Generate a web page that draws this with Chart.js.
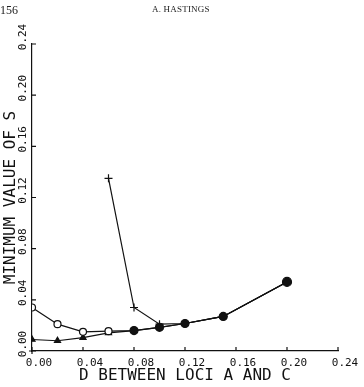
<!DOCTYPE html>
<html lang="en">
<head>
    <meta charset="UTF-8">
    <title>Minimum value of S</title>
    <style>
        body { margin: 0; background: #fff; }
        .page { position: relative; width: 364px; height: 387px; }
        .pageno { position: absolute; left: 0; top: 3px; font: 12px "Liberation Serif", serif; color: #222; }
        .author { position: absolute; left: 152px; top: 4px; font: 9px "Liberation Serif", serif; letter-spacing: 0.2px; color: #222; }
        canvas { position: absolute; left: 0; top: 0; }
    </style>
</head>
<body>
    <div class="page">
        <canvas id="grafico" width="364" height="387"></canvas>
        <div class="pageno">156</div>
        <div class="author">A. HASTINGS</div>
    </div>

    <script src="https://cdn.jsdelivr.net/npm/chart.js"></script>
    <script>
        // D between loci A and C
        const dValues = [0.00, 0.02, 0.04, 0.06, 0.08, 0.10, 0.12, 0.15, 0.20];
        const circleSeries = [0.034, 0.021, 0.015, 0.0155, 0.016, 0.0185, 0.0215, 0.027, 0.054];
        const triangleSeries = [0.009, 0.008, 0.0105, 0.0142, 0.016, 0.0185, 0.0215, 0.027, 0.054];
        const plusD = [0.06, 0.08, 0.10, 0.12, 0.15, 0.20];
        const plusSeries = [0.135, 0.034, 0.021, 0.0215, 0.027, 0.054];
        const tickValues = [0.00, 0.04, 0.08, 0.12, 0.16, 0.20, 0.24];

        const toPoints = (xs, ys) => xs.map((x, i) => ({ x: x, y: ys[i] }));
        const mono = '"DejaVu Sans Mono", "Liberation Mono", monospace';
        const ink = '#111';

        // ticks drawn inward, y labels rotated like the plotter output
        const axisPlugin = {
            id: 'axisPlugin',
            afterDraw(chart) {
                const ctx = chart.ctx;
                const xs = chart.scales.x;
                const ys = chart.scales.y;
                const bottom = ys.getPixelForValue(0);
                const left = xs.getPixelForValue(0);
                ctx.save();
                ctx.strokeStyle = ink;
                ctx.lineWidth = 1.2;
                ctx.beginPath();
                tickValues.forEach(v => {
                    const px = xs.getPixelForValue(v);
                    ctx.moveTo(px, bottom + (v === 0 ? 3 : 0));
                    ctx.lineTo(px, bottom - 4);
                    const py = ys.getPixelForValue(v);
                    ctx.moveTo(left - (v === 0 ? 3 : 0), py);
                    ctx.lineTo(left + 4, py);
                });
                ctx.stroke();

                ctx.fillStyle = ink;
                ctx.font = '11px ' + mono;
                ctx.textAlign = 'center';
                ctx.textBaseline = 'middle';
                tickValues.forEach(v => {
                    const py = ys.getPixelForValue(v);
                    ctx.save();
                    ctx.translate(23, py - 7);
                    ctx.rotate(-Math.PI / 2);
                    ctx.fillText(v.toFixed(2), 0, 0);
                    ctx.restore();
                });
                ctx.restore();
            }
        };

        new Chart(document.getElementById('grafico'), {
            type: 'line',
            data: {
                datasets: [
                    {
                        data: toPoints(dValues, circleSeries),
                        borderColor: ink,
                        borderWidth: 1.2,
                        pointStyle: 'circle',
                        pointRadius: [3.5, 3.5, 3.5, 3.5, 4, 4, 4, 4, 4.5],
                        pointBorderWidth: 1.2,
                        pointBorderColor: ink,
                        pointBackgroundColor: ['#fff', '#fff', '#fff', '#fff', ink, ink, ink, ink, ink]
                    },
                    {
                        data: toPoints(dValues, triangleSeries),
                        borderColor: ink,
                        borderWidth: 1.2,
                        pointStyle: 'triangle',
                        pointRadius: 3.5,
                        pointBorderColor: ink,
                        pointBackgroundColor: ink
                    },
                    {
                        data: toPoints(plusD, plusSeries),
                        borderColor: ink,
                        borderWidth: 1.2,
                        pointStyle: 'cross',
                        pointRadius: 4,
                        pointBorderWidth: 1.2,
                        pointBorderColor: ink
                    }
                ]
            },
            options: {
                responsive: false,
                animation: false,
                layout: { padding: { top: 44, right: 26, left: 0, bottom: 0 } },
                plugins: { legend: { display: false }, tooltip: { enabled: false } },
                scales: {
                    x: {
                        type: 'linear',
                        min: 0,
                        max: 0.24,
                        afterFit: s => { s.height = 36; },
                        afterBuildTicks: s => { s.ticks = tickValues.map(v => ({ value: v })); },
                        grid: { display: false, drawTicks: false },
                        border: { display: true, color: ink, width: 1.2 },
                        ticks: {
                            padding: 6,
                            labelOffset: 7,
                            color: ink,
                            font: { family: mono, size: 11 },
                            callback: v => v.toFixed(2)
                        },
                        title: {
                            display: true,
                            text: 'D BETWEEN LOCI A AND C',
                            color: ink,
                            font: { family: mono, size: 16 },
                            padding: { top: 0, bottom: 2 }
                        }
                    },
                    y: {
                        min: 0,
                        max: 0.24,
                        afterFit: s => { s.width = 32; },
                        afterBuildTicks: s => { s.ticks = tickValues.map(v => ({ value: v })); },
                        grid: { display: false, drawTicks: false },
                        border: { display: true, color: ink, width: 1.2 },
                        ticks: { display: false },
                        title: {
                            display: true,
                            text: 'MINIMUM VALUE OF S',
                            color: ink,
                            font: { family: mono, size: 16 },
                            padding: { top: 1, bottom: 0 }
                        }
                    }
                }
            },
            plugins: [axisPlugin]
        });
    </script>
</body>
</html>
